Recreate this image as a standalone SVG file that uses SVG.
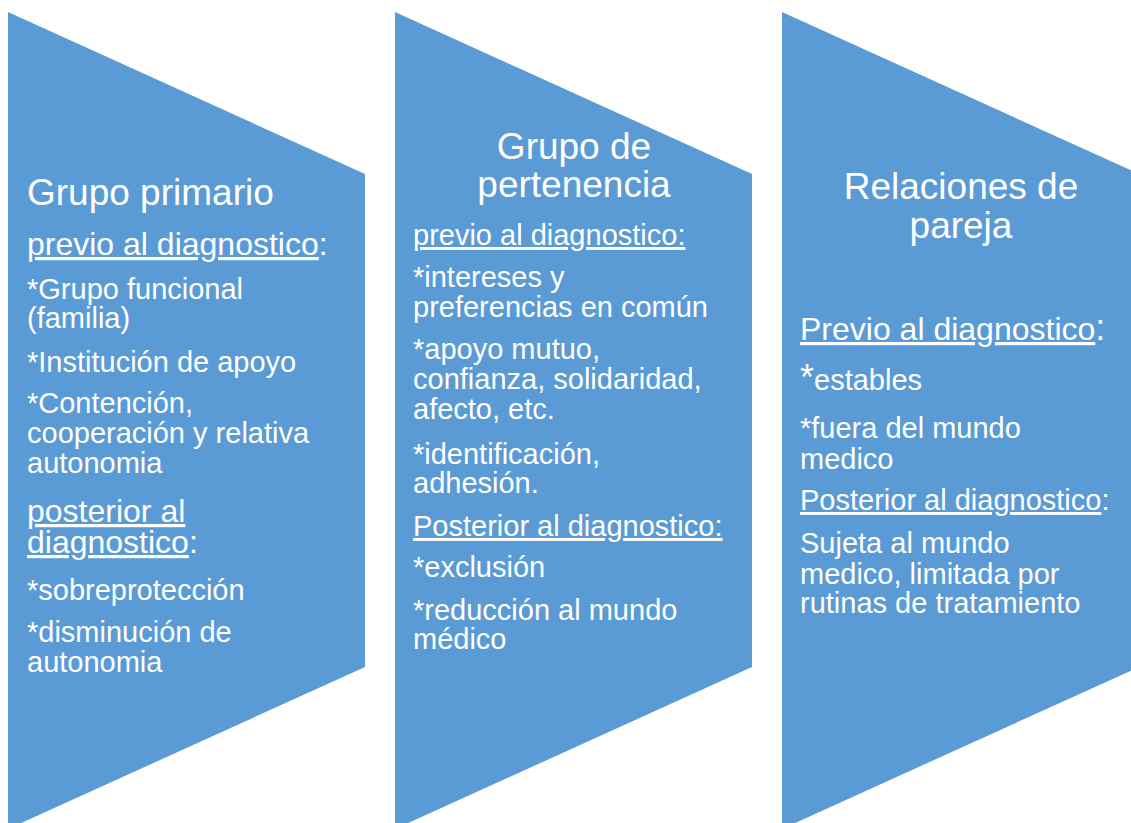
<svg xmlns="http://www.w3.org/2000/svg" width="1131" height="823" viewBox="0 0 1131 823">
<style>
.shape{fill:#5B9BD5;}
text{font-family:"Liberation Sans",Arial,sans-serif;fill:#FFFFFF;}
.t{font-size:37px;}
.h{font-size:32px;}
.h2{font-size:29px;}
.b{font-size:29px;}
.u{text-decoration:underline;}
.c{text-anchor:middle;}
</style>
<rect width="1131" height="823" fill="#FFFFFF"/>
<g id="node-grupo-primario">
<polygon class="shape" points="8,12 365,174 365,667 8,829"/>
<text class="t" x="27" y="205">Grupo primario</text>
<text class="h" x="27" y="255"><tspan class="u">previo al diagnostico</tspan>:</text>
<text class="b" x="27" y="299">*Grupo funcional<tspan x="27" y="328">(familia)</tspan></text>
<text class="b" x="27" y="372">*Institución de apoyo</text>
<text class="b" x="27" y="413">*Contención,<tspan x="27" y="443">cooperación y relativa</tspan><tspan x="27" y="473">autonomia</tspan></text>
<text class="h" x="27" y="522"><tspan class="u">posterior al</tspan><tspan x="27" y="553" class="u">diagnostico</tspan>:</text>
<text class="b" x="27" y="600">*sobreprotección</text>
<text class="b" x="27" y="642">*disminución de<tspan x="27" y="672">autonomia</tspan></text>
</g>
<g id="node-grupo-pertenencia">
<polygon class="shape" points="395,12 752,174 752,667 395,829"/>
<text class="t c" x="574" y="159">Grupo de<tspan x="574" y="197">pertenencia</tspan></text>
<text class="h2" x="413" y="245"><tspan class="u">previo al diagnostico:</tspan></text>
<text class="b" x="413" y="287">*intereses y<tspan x="413" y="317">preferencias en común</tspan></text>
<text class="b" x="413" y="359">*apoyo mutuo,<tspan x="413" y="389">confianza, solidaridad,</tspan><tspan x="413" y="419">afecto, etc.</tspan></text>
<text class="b" x="413" y="464">*identificación,<tspan x="413" y="493">adhesión.</tspan></text>
<text class="h2" x="413" y="536"><tspan class="u">Posterior al diagnostico:</tspan></text>
<text class="b" x="413" y="577">*exclusión</text>
<text class="b" x="413" y="620">*reducción al mundo<tspan x="413" y="649">médico</tspan></text>
</g>
<g id="node-relaciones-pareja">
<polygon class="shape" points="782,12 1139,174 1139,667 782,829"/>
<text class="t c" x="961" y="199">Relaciones de<tspan x="961" y="238">pareja</tspan></text>
<text class="h" x="800" y="340"><tspan class="u">Previo al diagnostico</tspan><tspan font-size="36">:</tspan></text>
<text class="b" x="800" y="390"><tspan font-size="36">*</tspan>estables</text>
<text class="b" x="800" y="438">*fuera del mundo<tspan x="800" y="469">medico</tspan></text>
<text class="b" x="800" y="510"><tspan class="u">Posterior al diagnostico</tspan>:</text>
<text class="b" x="800" y="553">Sujeta al mundo<tspan x="800" y="584">medico, limitada por</tspan><tspan x="800" y="613">rutinas de tratamiento</tspan></text>
</g>
<g id="connectors"></g>
</svg>
